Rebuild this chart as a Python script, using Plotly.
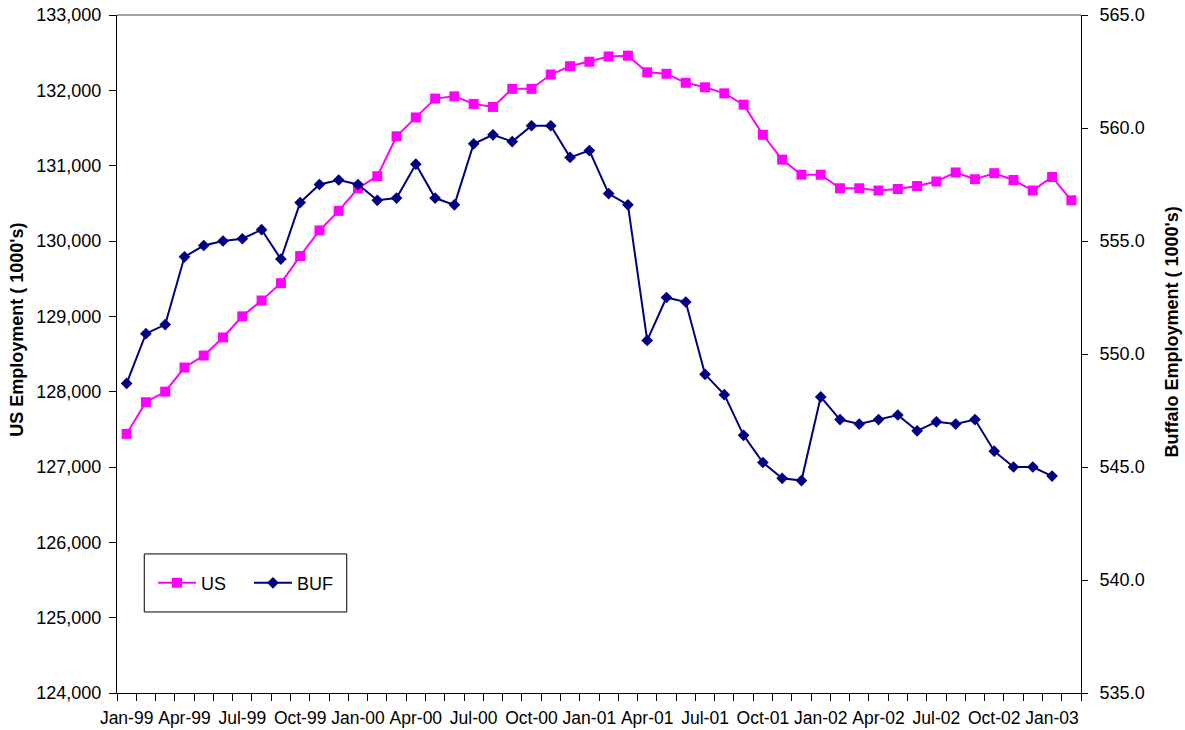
import plotly.graph_objects as go

# Monthly categories, Jan-1999 through Feb-2003
months = [
    "Jan-99", "Feb-99", "Mar-99", "Apr-99", "May-99", "Jun-99", "Jul-99", "Aug-99", "Sep-99", "Oct-99", "Nov-99", "Dec-99",
    "Jan-00", "Feb-00", "Mar-00", "Apr-00", "May-00", "Jun-00", "Jul-00", "Aug-00", "Sep-00", "Oct-00", "Nov-00", "Dec-00",
    "Jan-01", "Feb-01", "Mar-01", "Apr-01", "May-01", "Jun-01", "Jul-01", "Aug-01", "Sep-01", "Oct-01", "Nov-01", "Dec-01",
    "Jan-02", "Feb-02", "Mar-02", "Apr-02", "May-02", "Jun-02", "Jul-02", "Aug-02", "Sep-02", "Oct-02", "Nov-02", "Dec-02",
    "Jan-03", "Feb-03",
]

# US nonfarm employment (1000's)
us_employment = [
    127440, 127860, 128000, 128320, 128480, 128720, 129000, 129210, 129440, 129800,
    130140, 130400, 130700, 130860, 131390, 131640, 131890, 131920, 131820, 131780,
    132020, 132020, 132210, 132320, 132380, 132450, 132460, 132240, 132220, 132100,
    132040, 131960, 131810, 131410, 131080, 130880, 130880, 130700, 130700, 130670,
    130690, 130730, 130790, 130910, 130820, 130900, 130810, 130670, 130850, 130540,
]

# Buffalo employment (1000's), through Jan-03
buf_employment = [
    548.7, 550.9, 551.3, 554.3, 554.8, 555.0, 555.1, 555.5, 554.2, 556.7,
    557.5, 557.7, 557.5, 556.8, 556.9, 558.4, 556.9, 556.6, 559.3, 559.7,
    559.4, 560.1, 560.1, 558.7, 559.0, 557.1, 556.6, 550.6, 552.5, 552.3,
    549.1, 548.2, 546.4, 545.2, 544.5, 544.4, 548.1, 547.1, 546.9, 547.1,
    547.3, 546.6, 547.0, 546.9, 547.1, 545.7, 545.0, 545.0, 544.6,
]

# Quarterly tick labels
tick_labels = months[::3]

x_us = list(range(len(us_employment)))
x_buf = list(range(len(buf_employment)))
tick_pos = [months.index(m) for m in tick_labels]

FONT = "Liberation Sans, Arial, sans-serif"

fig = go.Figure()
fig.add_trace(go.Scatter(
    x=x_us, y=us_employment, name="US", mode="lines+markers",
    line=dict(color="#FF00FF", width=2),
    marker=dict(symbol="square", size=10, color="#FF00FF"),
    yaxis="y",
))
fig.add_trace(go.Scatter(
    x=x_buf, y=buf_employment, name="BUF", mode="lines+markers",
    line=dict(color="#000080", width=2),
    marker=dict(symbol="diamond", size=9, color="#000080"),
    yaxis="y2",
))

fig.update_layout(
    width=1185, height=730,
    margin=dict(l=117, r=104, t=15, b=37),
    paper_bgcolor="white", plot_bgcolor="white",
    font=dict(family=FONT, size=18, color="black"),
    showlegend=True,
    legend=dict(
        orientation="h", x=0.0373, y=0.162, xanchor="left", yanchor="middle",
        bgcolor="rgba(0,0,0,0)", borderwidth=0,
        font=dict(family=FONT, size=18, color="black"),
        itemwidth=38, entrywidth=43,
    ),
    xaxis=dict(
        range=[-0.5, len(months) - 0.5],
        tickmode="array", tickvals=tick_pos, ticktext=tick_labels,
        ticks="", showgrid=False, zeroline=False,
        showline=True, linecolor="black", linewidth=1,
        ticklabelstandoff=9,
        minor=dict(tickmode="linear", tick0=-0.5, dtick=1, ticks="outside",
                   ticklen=7, tickcolor="black", showgrid=False),
        tickfont=dict(size=17.5),
        automargin=False,
    ),
    yaxis=dict(
        range=[124000, 133000], dtick=1000, tickformat=",",
        ticks="outside", ticklen=7, tickcolor="black",
        showgrid=False, zeroline=False,
        showline=True, linecolor="black", linewidth=1,
        ticklabelstandoff=4,
        automargin=False,
    ),
    yaxis2=dict(
        range=[535, 565], dtick=5, tickformat=".1f",
        overlaying="y", side="right",
        ticks="outside", ticklen=6, tickcolor="black",
        showgrid=False, zeroline=False,
        showline=True, linecolor="black", linewidth=1,
        ticklabelstandoff=8,
        automargin=False,
    ),
    shapes=[
        # plot-area top border
        dict(type="line", xref="paper", yref="paper", x0=0, x1=1, y0=1, y1=1,
             line=dict(color="#808080", width=1.5)),
        # legend frame
        dict(type="rect", xref="paper", yref="paper",
             x0=0.0283, x1=0.2383, y0=0.1195, y1=0.2051,
             line=dict(color="black", width=1), fillcolor="white", layer="below"),
    ],
    annotations=[
        dict(text="<b>US Employment ( 1000's)</b>", textangle=-90,
             xref="paper", yref="paper", x=-0.1032, y=0.535,
             xanchor="center", yanchor="middle", showarrow=False,
             font=dict(size=18, family=FONT, color="black")),
        dict(text="<b>Buffalo Employment ( 1000's)</b>", textangle=-90,
             xref="paper", yref="paper", x=1.0946, y=0.532,
             xanchor="center", yanchor="middle", showarrow=False,
             font=dict(size=18, family=FONT, color="black")),
    ],
)

fig.write_html("out.html")
